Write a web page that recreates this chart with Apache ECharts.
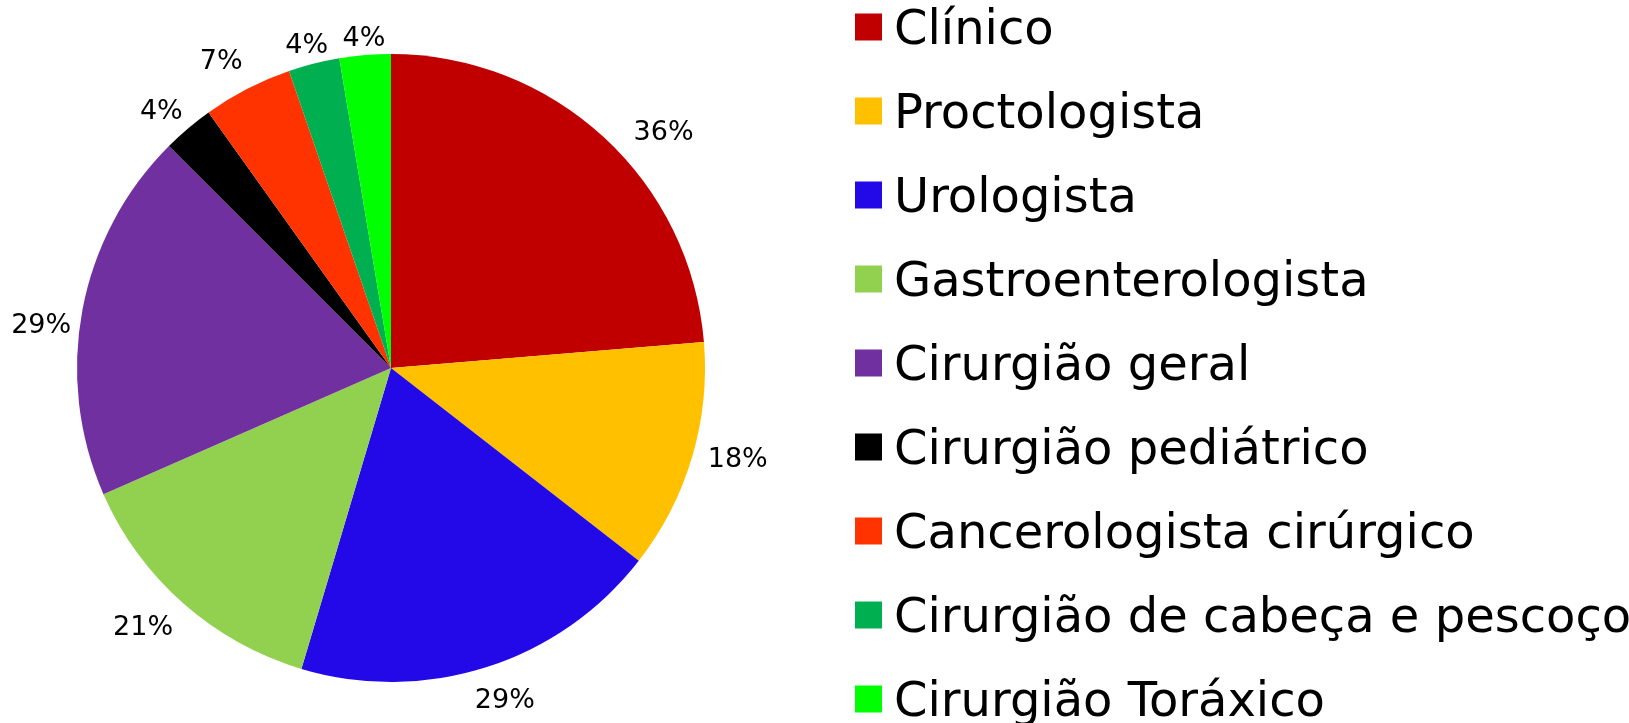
<meta charset="utf-8">
<style>
  html, body { margin: 0; padding: 0; background: #fff; }
</style>
<div id="main" style="width: 1629px; height: 723px"></div>
<script src="https://cdn.jsdelivr.net/npm/echarts@6/dist/echarts.min.js"></script>
<script>
  const categories = [
    'Clínico',
    'Proctologista',
    'Urologista',
    'Gastroenterologista',
    'Cirurgião geral',
    'Cirurgião pediátrico',
    'Cancerologista cirúrgico',
    'Cirurgião de cabeça e pescoço',
    'Cirurgião Toráxico',
  ];
  // percentages as printed on the chart (slices are sized by them)
  const percents = [36, 18, 29, 21, 29, 4, 7, 4, 4];
  const colors = [
    '#C00000', '#FFC000', '#2309E8', '#92D050', '#7030A0',
    '#000000', '#FF3300', '#00B050', '#00FF00',
  ];

  const CX = 391;
  const CY = 368;
  const R = 314;
  const LABEL_GAP = 11;
  // hand nudges of the value labels, like in the original drawing
  const labelNudge = [
    [32, 26], [4, -10], [8, 3], [-13, -6], [1, 24],
    [-4, 10], [-11, 2], [0, 11], [1, 10],
  ];

  var chartDom = document.getElementById('main');
  var myChart = echarts.init(chartDom);
  var option;

  const total = percents.reduce((a, b) => a + b, 0);

  // put each label just outside the rim, along the middle of its slice
  function placeLabel(params) {
    const i = params.dataIndex;
    let before = 0;
    for (let k = 0; k < i; k++) before += percents[k];
    const mid = ((before + percents[i] / 2) / total) * Math.PI * 2;
    const ux = Math.sin(mid);
    const uy = -Math.cos(mid);
    const w = params.labelRect.width;
    const h = params.labelRect.height;
    const ext = Math.abs(ux) * w / 2 + Math.abs(uy) * h / 2;
    const d = R + LABEL_GAP + ext;
    return {
      x: CX + ux * d + labelNudge[i][0],
      y: CY + uy * d + labelNudge[i][1],
      align: 'center',
      verticalAlign: 'middle',
    };
  }

  // two stacked legends: one draws the squares, the other the names a bit lower
  function legendPart(top, textColor, iconOpacity) {
    return {
      orient: 'vertical',
      left: 850,
      top: top,
      height: 800,
      icon: 'rect',
      itemWidth: 27,
      itemHeight: 27,
      itemGap: 36,
      selectedMode: false,
      itemStyle: { opacity: iconOpacity },
      textStyle: {
        fontFamily: 'DejaVu Sans',
        fontSize: 48,
        lineHeight: 48,
        color: textColor,
        padding: [0, 0, 0, 7],
      },
      data: categories,
    };
  }

  option = {
    backgroundColor: '#ffffff',
    color: colors,
    legend: [
      legendPart(-2, 'rgba(0,0,0,0)', 1),
      legendPart(3, '#000', 0),
    ],
    series: [
      {
        type: 'pie',
        center: [CX, CY],
        radius: R,
        startAngle: 90,
        clockwise: true,
        avoidLabelOverlap: false,
        label: {
          show: true,
          position: 'outside',
          fontFamily: 'DejaVu Sans',
          fontSize: 27,
          lineHeight: 20,
          color: '#000',
          formatter: (p) => percents[p.dataIndex] + '%',
        },
        labelLine: {
          show: false,
        },
        labelLayout: placeLabel,
        emphasis: { disabled: true },
        data: categories.map((name, i) => ({ name: name, value: percents[i] })),
      },
    ],
    animation: false,
  };

  option && myChart.setOption(option);
</script>
